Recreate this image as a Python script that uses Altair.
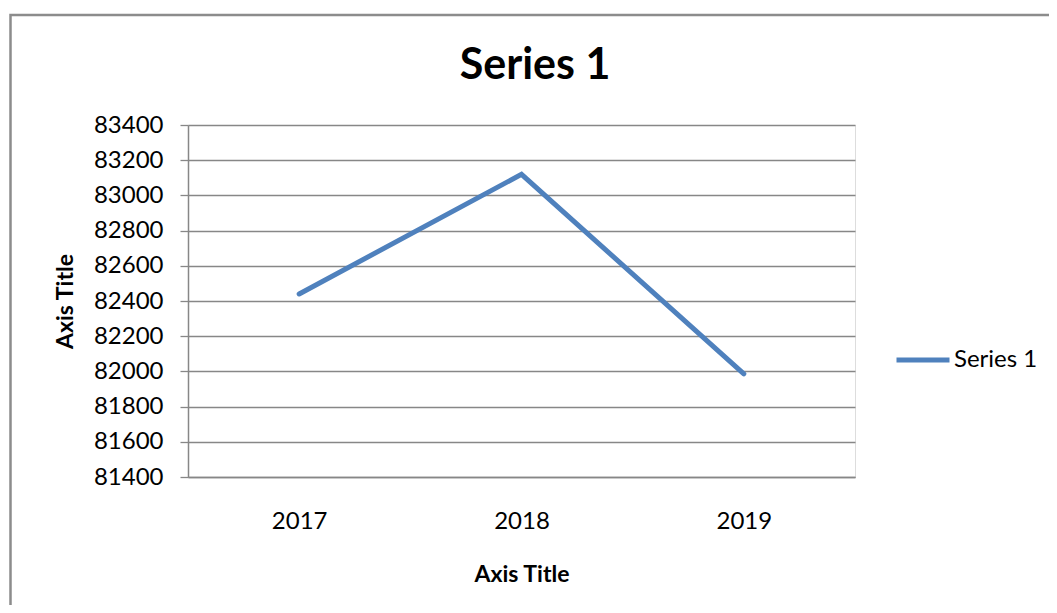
import altair as alt
import pandas as pd

years = ["2017", "2018", "2019"]
values = [82440, 83120, 81986]
series_name = "Series 1"
chart_title = "Series 1"
y_ticks = list(range(81400, 83401, 200))

df = pd.DataFrame({"year": years, "value": values, "series": [series_name] * len(years)})

FONT = "Lato"
GRID = "#878787"

line = alt.Chart(df).mark_line(strokeWidth=5, strokeCap="round", strokeJoin="miter").encode(
    x=alt.X("year:O", scale=alt.Scale(type="point", padding=0.5),
            axis=alt.Axis(title="Axis Title", labelAngle=0, ticks=False, grid=False,
                          domainColor=GRID, domainWidth=1.5,
                          labelFont=FONT, labelFontSize=24, labelColor="#000000",
                          labelBaseline="alphabetic", labelPadding=51.5,
                          titleFont=FONT, titleFontSize=23, titleFontWeight="bold",
                          titleColor="#000000", titleBaseline="alphabetic", titleY=104.5)),
    y=alt.Y("value:Q", scale=alt.Scale(domain=[81400, 83400], zero=False, nice=False),
            axis=alt.Axis(title="Axis Title", values=y_ticks, format="d",
                          grid=True, gridColor=GRID, gridWidth=1.3,
                          domainColor=GRID, domainWidth=1.5,
                          tickColor=GRID, tickSize=8, tickWidth=1.3,
                          labelFont=FONT, labelFontSize=24, labelColor="#000000",
                          labelPadding=17,
                          titleFont=FONT, titleFontSize=23, titleFontWeight="bold",
                          titleColor="#000000", titleAngle=270, titleBaseline="alphabetic",
                          titleAlign="center", titleX=-116, titleY=176)),
    color=alt.Color("series:N", scale=alt.Scale(range=["#4F81BD"]),
                    legend=alt.Legend(title=None, orient="none", legendX=706, legendY=206,
                                      symbolType="stroke", symbolSize=2809, symbolStrokeWidth=5,
                                      labelFont=FONT, labelFontSize=24, labelColor="#000000",
                                      labelOffset=2, padding=0)),
)

base_one = alt.Chart(pd.DataFrame({"label": [chart_title]}))

border = base_one.mark_rect(
    fill=None, stroke="#8c8c8c", strokeWidth=2.5
).encode(
    x=alt.value(-177.5), x2=alt.value(950), y=alt.value(-110), y2=alt.value(560)
)

title = base_one.mark_text(
    font=FONT, fontSize=43, fontWeight="bold", color="#000000",
    align="center", baseline="alphabetic"
).encode(text="label:N", x=alt.value(347), y=alt.value(-46))

chart = alt.layer(border, title, line).properties(
    width=667, height=352,
    autosize=alt.AutoSizeParams(type="none"),
    padding={"left": 180, "top": 117, "right": 194, "bottom": 128},
).configure_view(stroke=None).configure(background="white")

chart.save("out.html", embed_options={"renderer": "svg", "actions": False})
